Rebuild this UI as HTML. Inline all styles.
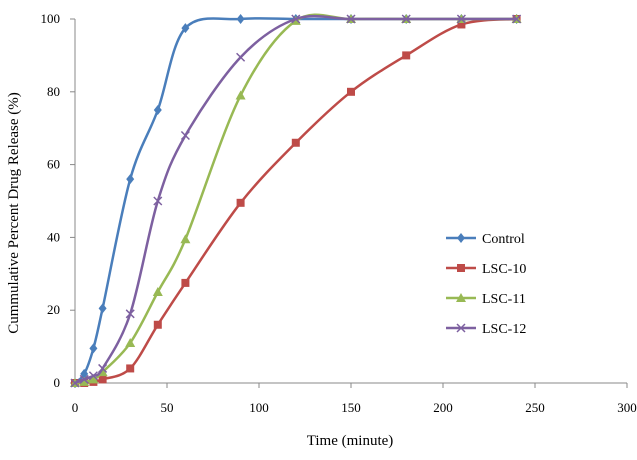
<!DOCTYPE html>
<html><head><meta charset="utf-8"><style>
body{margin:0;background:#fff}
svg text{font-family:"Liberation Serif",serif;fill:#000}
</style></head><body>
<svg id="c" width="637" height="455"></svg>
<script>
const times=[0,5,10,15,30,45,60,90,120,150,180,210,240];
const control=[0,2.5,9.5,20.5,56,75,97.5,100,100,100,100,100,100];
const lsc10=[0,0,0.3,1,4,16,27.5,49.5,66,80,90,98.5,100];
const lsc11=[0,0.3,1,3,11,25,39.5,79,99.5,100,100,100,100];
const lsc12=[0,1,2,4,19,50,68,89.5,100,100,100,100,100];
const xTicks=[0,50,100,150,200,250,300];
const yTicks=[0,20,40,60,80,100];
const seriesNames=["Control","LSC-10","LSC-11","LSC-12"];
const colors=["#4a7ebb","#be4b48","#98b954","#7d60a0"];
const X=v=>75+v*1.84, Y=v=>383-v*3.64;
const svg=document.getElementById('c'),NS="http://www.w3.org/2000/svg";
function el(t,a,p){const e=document.createElementNS(NS,t);for(const k in a)e.setAttribute(k,a[k]);(p||svg).appendChild(e);return e;}
let e;
e=el('line',{x1:75,y1:19,x2:75,y2:383,stroke:'#888'});


e=el('line',{x1:75,y1:383,x2:627,y2:383,stroke:'#888'});


yTicks.forEach(v=>{el('line',{x1:70,x2:75,y1:Y(v),y2:Y(v),stroke:'#888'});
 e=el('text',{x:60,y:Y(v)+4,'text-anchor':'end','font-size':13});e.textContent=v;
 
 });
xTicks.forEach(v=>{el('line',{x1:X(v),x2:X(v),y1:383,y2:388,stroke:'#888'});
 e=el('text',{x:X(v),y:412,'text-anchor':'middle','font-size':13});e.textContent=v;
 
 });
e=el('text',{x:350,y:445,'text-anchor':'middle','font-size':15});e.textContent='Time (minute)';


e=el('text',{x:0,y:0,'text-anchor':'middle','font-size':15,transform:'translate(18,213) rotate(-90)'});e.textContent='Cummulative Percent Drug Release (%)';


function path(pts){let d=`M${pts[0][0]},${pts[0][1]}`;
 for(let i=0;i<pts.length-1;i++){const p0=pts[i-1]||pts[i],p1=pts[i],p2=pts[i+1],p3=pts[i+2]||p2;
  d+=` C${p1[0]+(p2[0]-p0[0])/6},${p1[1]+(p2[1]-p0[1])/6} ${p2[0]-(p3[0]-p1[0])/6},${p2[1]-(p3[1]-p1[1])/6} ${p2[0]},${p2[1]}`;}return d;}
function marker(i,x,y,g){const c=colors[i];
 if(i==0)return el('path',{d:`M${x},${y-5}L${x+4},${y}L${x},${y+5}L${x-4},${y}Z`,fill:c},g);
 if(i==1)return el('rect',{x:x-4,y:y-4,width:8,height:8,fill:c},g);
 if(i==2)return el('path',{d:`M${x},${y-5}L${x+5},${y+4}L${x-5},${y+4}Z`,fill:c},g);
 return el('path',{d:`M${x-4},${y-4}L${x+4},${y+4}M${x+4},${y-4}L${x-4},${y+4}`,stroke:c,'stroke-width':1.5},g);}
[control,lsc10,lsc11,lsc12].forEach((s,i)=>{
 const g=el('g',{});
 
 
 el('path',{d:path(s.map((v,j)=>[X(times[j]),Y(v)])),fill:'none',stroke:colors[i],'stroke-width':2.5},g);
 s.forEach((v,j)=>{const m=marker(i,X(times[j]),Y(v),g);
  
  });
 const ly=238+i*30;
 const lg=el('g',{});
 
 
 el('line',{x1:446,x2:476,y1:ly,y2:ly,stroke:colors[i],'stroke-width':2.5},lg);
 marker(i,461,ly,lg);
 const t=el('text',{x:482,y:ly+5,'font-size':14},lg);t.textContent=seriesNames[i];
});
</script>
</body></html>
